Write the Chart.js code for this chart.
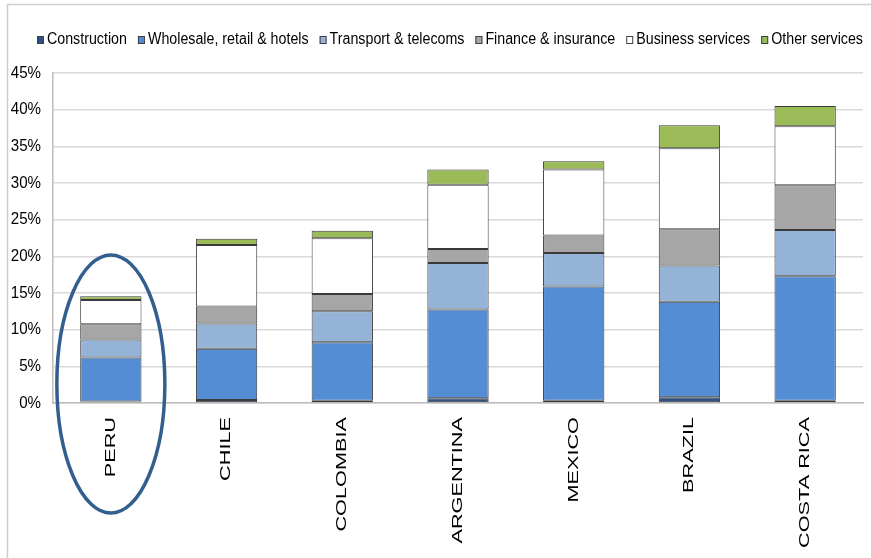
<!DOCTYPE html>
<html>
<head>
<meta charset="utf-8">
<script src="https://cdn.jsdelivr.net/npm/chart.js@4.4.1/dist/chart.umd.min.js"></script>
<style>
  html, body { margin: 0; padding: 0; background: #ffffff; }
  #wrap { width: 871px; height: 558px; position: relative; }
</style>
</head>
<body>
<div id="wrap"><canvas id="c" width="871" height="558"></canvas></div>
<script>
const countries = ['PERU', 'CHILE', 'COLOMBIA', 'ARGENTINA', 'MEXICO', 'BRAZIL', 'COSTA RICA'];
const construction = [0.2, 0.4, 0.3, 0.65, 0.3, 0.8, 0.3];
const wholesale    = [6.0, 7.0, 8.0, 12.1, 15.6, 13.0, 17.0];
const transport    = [2.45, 3.45, 4.2, 6.35, 4.55, 4.95, 6.3];
const finance      = [2.1, 2.3, 2.35, 1.9, 2.4, 4.95, 6.1];
const business     = [3.3, 8.4, 7.6, 8.75, 9.0, 11.05, 8.05];
const other        = [0.5, 0.85, 1.05, 2.1, 1.1, 3.13, 2.75];
const yTicks = [0, 5, 10, 15, 20, 25, 30, 35, 40, 45];

const SANS = "'Liberation Sans', Arial, sans-serif";

const ds = (label, data, color) => ({
  label, data, backgroundColor: color, borderColor: '#3a3a3a', borderWidth: 1,
  borderSkipped: false, barPercentage: 0.53, categoryPercentage: 1.0
});

// draws text squeezed horizontally (narrow face look)
function narrowText(ctx, text, x, y, sx, align) {
  const w = ctx.measureText(text).width * sx;
  let x0 = x;
  if (align === 'right') x0 = x - w;
  else if (align === 'center') x0 = x - w / 2;
  ctx.save();
  ctx.translate(x0, y);
  ctx.scale(sx, 1);
  ctx.textAlign = 'left';
  ctx.fillText(text, 0, 0);
  ctx.restore();
  return w;
}

const decor = {
  id: 'decor',
  beforeDraw(chart) {
    const ctx = chart.ctx;
    ctx.save();
    ctx.strokeStyle = '#d0d0d0';
    ctx.lineWidth = 1.5;
    ctx.beginPath();
    ctx.moveTo(7.5, 558);
    ctx.lineTo(7.5, 4.5);
    ctx.lineTo(871, 4.5);
    ctx.stroke();
    ctx.restore();
  },
  afterDraw(chart) {
    const ctx = chart.ctx;
    const xs = chart.scales.x;
    const ys = chart.scales.y;
    const area = chart.chartArea;
    ctx.save();
    ctx.fillStyle = '#000';

    // y tick labels
    ctx.font = '17px ' + SANS;
    ctx.textBaseline = 'middle';
    yTicks.forEach(v => {
      narrowText(ctx, v + '%', area.left - 12, ys.getPixelForValue(v), 0.89, 'right');
    });

    // legend
    ctx.font = '16px ' + SANS;
    ctx.textBaseline = 'middle';
    let lx = 37;
    const ly = 40;
    chart.data.datasets.forEach(d => {
      ctx.fillStyle = d.backgroundColor;
      ctx.fillRect(lx, ly - 4, 7, 8);
      ctx.strokeStyle = '#404040';
      ctx.lineWidth = 1;
      ctx.strokeRect(lx + 0.5, ly - 3.5, 6, 7);
      ctx.fillStyle = '#000';
      const w = narrowText(ctx, d.label, lx + 10, ly, 0.89, 'left');
      lx += 10 + w + 11;
    });

    // category labels (rotated)
    ctx.fillStyle = '#000';
    ctx.font = '14px ' + SANS;
    ctx.textAlign = 'right';
    ctx.textBaseline = 'middle';
    countries.forEach((c, i) => {
      const x = xs.getPixelForTick(i);
      ctx.save();
      ctx.translate(x, area.bottom + 14);
      ctx.rotate(-Math.PI / 2);
      ctx.scale(1.55, 1);
      ctx.fillText(c, 0, 0);
      ctx.restore();
    });

    // highlight ellipse around PERU
    const cx = xs.getPixelForTick(0);
    ctx.strokeStyle = '#335f8f';
    ctx.lineWidth = 3.5;
    ctx.beginPath();
    ctx.ellipse(cx, area.bottom - 19, 54, 129, 0, 0, Math.PI * 2);
    ctx.stroke();
    ctx.restore();
  }
};

new Chart(document.getElementById('c'), {
  type: 'bar',
  data: {
    labels: countries,
    datasets: [
      ds('Construction', construction, '#2e5182'),
      ds('Wholesale, retail & hotels', wholesale, '#548dd4'),
      ds('Transport & telecoms', transport, '#95b3d7'),
      ds('Finance & insurance', finance, '#a6a6a6'),
      ds('Business services', business, '#ffffff'),
      ds('Other services', other, '#9bbb59')
    ]
  },
  options: {
    responsive: false,
    animation: false,
    devicePixelRatio: 1,
    layout: { padding: { left: 0, right: 8, top: 73, bottom: 155 } },
    plugins: {
      legend: { display: false },
      tooltip: { enabled: false },
      title: { display: false }
    },
    scales: {
      x: {
        stacked: true,
        afterFit(scale) { scale.height = 0; },
        grid: { display: false },
        border: { display: true, color: '#bdbdbd', width: 1.5 },
        ticks: { display: false }
      },
      y: {
        stacked: true,
        min: 0, max: 45,
        afterFit(scale) { scale.width = 53; },
        afterBuildTicks(scale) { scale.ticks = yTicks.map(v => ({ value: v })); },
        grid: { color: '#d9d9d9', lineWidth: 1.5, drawTicks: false },
        border: { display: true, color: '#bdbdbd', width: 1.5 },
        ticks: { display: false }
      }
    }
  },
  plugins: [decor]
});
</script>
</body>
</html>
